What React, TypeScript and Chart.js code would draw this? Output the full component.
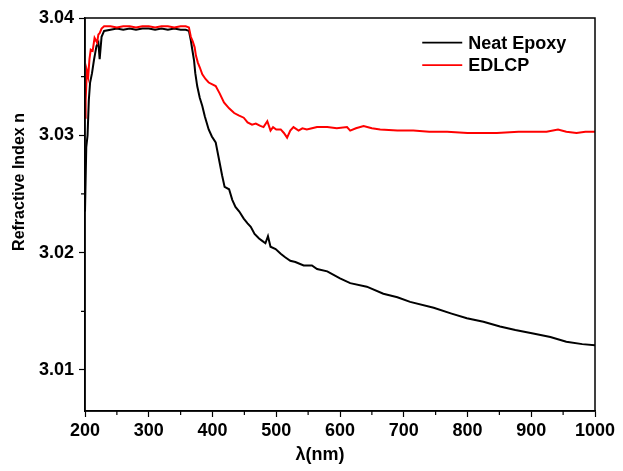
import React, { useEffect, useRef } from "react";
import { Chart, registerables } from "chart.js";

Chart.register(...registerables);

const xTickValues = [200, 300, 400, 500, 600, 700, 800, 900, 1000];
const yTickValues = [3.01, 3.02, 3.03, 3.04];
const xMinorTicks = [250, 350, 450, 550, 650, 750, 850, 950];
const yMinorTicks = [3.015, 3.025, 3.035];

const seriesNames = ["Neat Epoxy", "EDLCP"];
const seriesColors = ["#000000", "#ff0000"];

const epoxyWavelength = [
  200, 202, 204, 206, 208, 211, 214, 216, 218, 221, 223, 226, 230, 240, 250, 260, 270, 280, 290, 300,
  310, 320, 330, 340, 350, 358, 363, 366, 368, 371, 373, 376, 380, 384, 388, 394, 399, 405, 410, 415,
  419, 426, 431, 436, 442, 449, 455, 460, 466, 473, 478, 483, 487, 491, 499, 507, 514, 522, 530, 543,
  556, 564, 580, 600, 616, 642, 668, 690, 710, 747, 775, 799, 825, 851, 875, 903, 930, 955, 980, 1000,
];
const epoxyIndex = [
  3.0235, 3.029, 3.03, 3.033, 3.0345, 3.0353, 3.0364, 3.037, 3.0376, 3.0379, 3.0365, 3.0384, 3.0389, 3.039, 3.0391, 3.039, 3.0391, 3.039, 3.0391, 3.0391,
  3.039, 3.0391, 3.039, 3.0391, 3.039, 3.039, 3.0389, 3.0381, 3.0374, 3.0364, 3.0353, 3.0342, 3.0332, 3.0325, 3.0316, 3.0305, 3.0299, 3.0294, 3.028, 3.0266,
  3.0256, 3.0254, 3.0245, 3.0239, 3.0235, 3.0229, 3.0225, 3.0222, 3.0216, 3.0212, 3.021, 3.0208, 3.0214, 3.0205, 3.0203, 3.0199, 3.0196, 3.0193, 3.0192, 3.0189,
  3.0189, 3.0186, 3.0184, 3.0178, 3.0174, 3.0171, 3.0165, 3.0162, 3.0158, 3.0153, 3.0148, 3.0144, 3.0141, 3.0137, 3.0134, 3.0131, 3.0128, 3.0124, 3.0122, 3.0121,
];

const edlcpWavelength = [
  200, 201, 203, 205, 207, 209, 212, 215, 217, 219, 221, 223, 226, 230, 240, 250, 260, 270, 280, 290,
  300, 310, 320, 330, 340, 350, 358, 363, 366, 369, 372, 374, 377, 380, 384, 389, 394, 405, 411, 418,
  426, 434, 441, 449, 455, 462, 468, 475, 480, 486, 491, 495, 500, 507, 512, 517, 522, 527, 535, 541,
  548, 556, 564, 580, 595, 611, 616, 625, 637, 650, 663, 690, 715, 740, 768, 800, 846, 880, 924, 942,
  955, 971, 985, 1000,
];
const edlcpIndex = [
  3.0315, 3.033, 3.0355, 3.035, 3.0365, 3.0373, 3.0372, 3.0383, 3.0381, 3.0379, 3.0386, 3.0387, 3.0391, 3.0393, 3.0393, 3.0392, 3.0393, 3.0393, 3.0392, 3.0393,
  3.0393, 3.0392, 3.0393, 3.0393, 3.0392, 3.0393, 3.0393, 3.0392, 3.0384, 3.038, 3.0375, 3.0368, 3.0362, 3.0358, 3.0352, 3.0348, 3.0345, 3.0342, 3.0336, 3.0328,
  3.0323, 3.0319, 3.0317, 3.0315, 3.0311, 3.0309, 3.031, 3.0308, 3.0307, 3.0312, 3.0304, 3.0307, 3.0305, 3.0305, 3.0302, 3.0298, 3.0304, 3.0307, 3.0304, 3.0306,
  3.0305, 3.0306, 3.0307, 3.0307, 3.0306, 3.0307, 3.0304, 3.0306, 3.0308, 3.0306, 3.0305, 3.0304, 3.0304, 3.0303, 3.0303, 3.0302, 3.0302, 3.0303, 3.0303, 3.0305,
  3.0303, 3.0302, 3.0303, 3.0303,
];

const xTitle = "λ(nm)";
const yTitle = "Refractive Index n";
const FONT = "Arial, 'Liberation Sans', sans-serif";

const corner = { legendX: 729, legendY: 3.0379 };

const decorPlugin = {
  id: "decor",
  afterDraw(chart: any) {
    const { ctx, chartArea, scales } = chart;
    const xs = scales.x;
    const ys = scales.y;
    ctx.save();
    ctx.strokeStyle = "#000";
    ctx.lineWidth = 1.5;
    ctx.strokeRect(chartArea.left, chartArea.top, chartArea.right - chartArea.left, chartArea.bottom - chartArea.top);
    ctx.lineWidth = 1.2;
    ctx.beginPath();
    xMinorTicks.forEach((v) => {
      const px = xs.getPixelForValue(v);
      ctx.moveTo(px, chartArea.bottom);
      ctx.lineTo(px, chartArea.bottom + 4);
    });
    yMinorTicks.forEach((v) => {
      const py = ys.getPixelForValue(v);
      ctx.moveTo(chartArea.left, py);
      ctx.lineTo(chartArea.left - 4, py);
    });
    ctx.stroke();
    ctx.fillStyle = "#000";
    ctx.font = `bold 16px ${FONT}`;
    ctx.textAlign = "center";
    ctx.textBaseline = "middle";
    ctx.save();
    ctx.translate(20, 182);
    ctx.rotate(-Math.PI / 2);
    ctx.fillText(yTitle, 0, 0);
    ctx.restore();
    ctx.font = `bold 18px ${FONT}`;
    ctx.fillText(xTitle, 320, 455);
    const lx = xs.getPixelForValue(corner.legendX);
    const ly0 = ys.getPixelForValue(corner.legendY);
    ctx.textAlign = "left";
    ctx.font = `bold 18px ${FONT}`;
    chart.data.datasets.forEach((ds: any, i: number) => {
      const ly = ly0 + i * 22.5;
      ctx.strokeStyle = ds.borderColor;
      ctx.lineWidth = 1.6;
      ctx.beginPath();
      ctx.moveTo(lx, ly);
      ctx.lineTo(lx + 40, ly);
      ctx.stroke();
      ctx.fillStyle = "#000";
      ctx.fillText(ds.label, lx + 46, ly + 1);
    });
    ctx.restore();
  },
};

export default function App() {
  const ref = useRef<HTMLCanvasElement>(null);
  useEffect(() => {
    document.body.style.margin = "0";
    const canvas = ref.current!;
    const chart = new Chart(canvas, {
      type: "line",
      data: {
        datasets: [
          {
            label: seriesNames[0],
            data: epoxyWavelength.map((x, i) => ({ x, y: epoxyIndex[i] })),
            borderColor: seriesColors[0],
            borderWidth: 2,
            pointRadius: 0,
            tension: 0,
            order: 1,
          },
          {
            label: seriesNames[1],
            data: edlcpWavelength.map((x, i) => ({ x, y: edlcpIndex[i] })),
            borderColor: seriesColors[1],
            borderWidth: 2,
            pointRadius: 0,
            tension: 0,
            order: 0,
          },
        ],
      },
      options: {
        animation: false,
        responsive: false,
        maintainAspectRatio: false,
        layout: { padding: { left: 0, right: 28, top: 18, bottom: 0 } },
        plugins: { legend: { display: false }, tooltip: { enabled: false } },
        scales: {
          x: {
            type: "linear",
            min: 200,
            max: 1000,
            afterFit: (s: any) => {
              s.height = 60;
            },
            afterBuildTicks: (s: any) => {
              s.ticks = xTickValues.map((v) => ({ value: v }));
            },
            ticks: {
              color: "#000",
              font: { family: FONT, size: 18, weight: "bold" },
              padding: 3,
              maxRotation: 0,
              autoSkip: false,
              callback: (v: any) => String(v),
            },
            grid: { drawOnChartArea: false, drawTicks: true, tickLength: 6, tickColor: "#000", tickWidth: 1.2 },
            border: { display: true, color: "#000", width: 1.5 },
          },
          y: {
            type: "linear",
            min: 3.0065,
            max: 3.04,
            afterFit: (s: any) => {
              s.width = 85;
            },
            afterBuildTicks: (s: any) => {
              s.ticks = yTickValues.map((v) => ({ value: v }));
            },
            ticks: {
              color: "#000",
              font: { family: FONT, size: 18, weight: "bold" },
              padding: 5,
              autoSkip: false,
              callback: (v: any) => Number(v).toFixed(2),
            },
            grid: { drawOnChartArea: false, drawTicks: true, tickLength: 6, tickColor: "#000", tickWidth: 1.2 },
            border: { display: true, color: "#000", width: 1.5 },
          },
        },
      },
      plugins: [decorPlugin],
    });
    return () => chart.destroy();
  }, []);
  return (
    <div style={{ position: "absolute", left: 0, top: 0, width: 623, height: 471, background: "#fff" }}>
      <canvas ref={ref} width={623} height={471} />
    </div>
  );
}
